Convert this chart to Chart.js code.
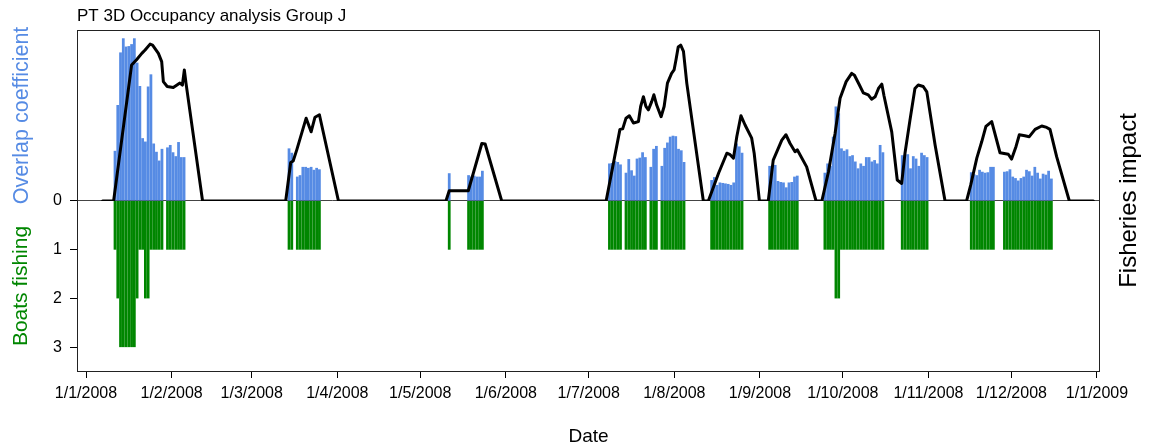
<!DOCTYPE html>
<html>
<head>
<meta charset="utf-8">
<script src="https://cdn.jsdelivr.net/npm/chart.js@4.4.1/dist/chart.umd.min.js"></script>
<style>
  html, body { margin: 0; padding: 0; background: #fff; }
</style>
</head>
<body>
<canvas id="myChart" width="1150" height="448"></canvas>
<script>
// x axis: days since 1/1/2008
const monthTicks = [0, 31, 60, 91, 121, 152, 182, 213, 244, 274, 305, 335, 366];
const monthLabels = ["1/1/2008", "1/2/2008", "1/3/2008", "1/4/2008", "1/5/2008", "1/6/2008",
  "1/7/2008", "1/8/2008", "1/9/2008", "1/10/2008", "1/11/2008", "1/12/2008", "1/1/2009"];
const boatTicks = [1, 2, 3];

// first day of each run of daily bars
const runStart = [10, 29, 73, 76, 131, 138, 189, 195, 204, 208, 226, 247, 267, 295, 320, 332];

// overlap coefficient per day, one list per run
const overlapRuns = [
  [1.03, 1.97, 3.05, 3.34, 3.17, 3.18, 3.22, 3.34, 2.84, 2.36, 1.29, 1.22, 2.35, 2.6, 1.18, 1.01, 0.83, 1.07],
  [1.1, 1.15, 1.0, 0.92, 1.21, 0.9, 0.9],
  [1.08, 0.99],
  [0.5, 0.53, 0.7, 0.7, 0.68, 0.7, 0.64, 0.68, 0.65],
  [0.57],
  [0.53, 0.5, 0.52, 0.5, 0.5, 0.62],
  [0.77, 0.78, 0.82, 0.8, 0.75],
  [0.58, 0.86, 0.63, 0.52, 0.87, 0.89, 1.0, 0.9],
  [0.7, 1.07, 1.13],
  [0.72, 1.09, 1.2, 1.32, 1.34, 1.33, 1.07, 1.04, 0.8],
  [0.43, 0.49, 0.33, 0.38, 0.37, 0.36, 0.35, 0.33, 0.38, 1.18, 1.12, 0.99],
  [0.72, 0.73, 0.74, 0.41, 0.39, 0.38, 0.28, 0.38, 0.39, 0.5, 0.52],
  [0.58, 0.77, 0.72, 1.32, 1.94, 1.8, 1.08, 1.03, 1.06, 0.92, 0.94, 0.81, 0.67, 0.77, 0.72, 0.9, 0.9, 0.81, 0.84, 0.77, 1.15, 1.0],
  [0.94, 0.95, 0.96, 0.67, 0.92, 0.87, 0.72, 0.99, 0.94, 0.9],
  [0.59, 0.55, 0.53, 0.64, 0.6, 0.58, 0.59, 0.7, 0.7],
  [0.6, 0.61, 0.65, 0.5, 0.47, 0.42, 0.47, 0.5, 0.64, 0.61, 0.52, 0.7, 0.58, 0.46, 0.56, 0.54, 0.62, 0.46]
];

// boats fishing per day, same runs
const boatRuns = [
  [1, 2, 3, 3, 3, 3, 3, 3, 2, 1, 1, 2, 2, 1, 1, 1, 1, 1],
  [1, 1, 1, 1, 1, 1, 1],
  [1, 1],
  [1, 1, 1, 1, 1, 1, 1, 1, 1],
  [1],
  [1, 1, 1, 1, 1, 1],
  [1, 1, 1, 1, 1],
  [1, 1, 1, 1, 1, 1, 1, 1],
  [1, 1, 1],
  [1, 1, 1, 1, 1, 1, 1, 1, 1],
  [1, 1, 1, 1, 1, 1, 1, 1, 1, 1, 1, 1],
  [1, 1, 1, 1, 1, 1, 1, 1, 1, 1, 1],
  [1, 1, 1, 1, 2, 2, 1, 1, 1, 1, 1, 1, 1, 1, 1, 1, 1, 1, 1, 1, 1, 1],
  [1, 1, 1, 1, 1, 1, 1, 1, 1, 1],
  [1, 1, 1, 1, 1, 1, 1, 1, 1],
  [1, 1, 1, 1, 1, 1, 1, 1, 1, 1, 1, 1, 1, 1, 1, 1, 1, 1]
];

// fisheries impact line
const impactDays = [6, 10, 16.5, 18.3, 20.2, 21.4, 23.2, 24.1, 26.2, 27.4, 28, 29.4, 31.6, 34, 34.9, 35.6, 36.2, 42.2,
  72.3, 74.1, 75, 76.3, 79.7, 81.5, 82.9, 84.5, 91.4,
  130.3, 131.5, 138.4, 143.3, 144.5, 150.5,
  188.3, 193.3, 194.3, 195.5, 196.7, 198.2, 200, 200.8, 201.8, 202.7, 203.6, 204.8, 205.6, 206.6, 208.2, 209.3, 210.5, 212, 212.9, 213.6, 214.4, 215.3, 216.3, 217.5, 223.5,
  225.3, 229, 232, 233.2, 234.4, 235.6, 237.1, 238.6, 241, 241.9, 243.8,
  247, 248.8, 251.9, 253.4, 254.9, 256.7, 257.5, 260.9, 264.3,
  266.4, 268.8, 271.2, 273, 275.2, 277.2, 278.2, 280, 281.4, 283.2, 284.4, 285.7, 286.9, 288.1, 288.9, 291.7, 293.7, 295.3, 296.5, 298.3, 300.1, 301.3, 303.1, 304.4, 307.4, 311,
  318.8, 320.3, 322.5, 324.3, 325.8, 327.9, 330.9, 333.9, 335.1, 336.7, 337.9, 339.9, 341.5, 343.6, 346, 347.8, 349, 351.4, 356, 364.7];
const impactValues = [0, 0, 2.79, 2.9, 3.03, 3.1, 3.22, 3.2, 3.03, 2.86, 2.45, 2.35, 2.33, 2.42, 2.38, 2.69, 2.42, 0,
  0, 0.79, 0.82, 1.05, 1.7, 1.42, 1.72, 1.77, 0,
  0, 0.21, 0.21, 1.18, 1.17, 0,
  0, 1.47, 1.48, 1.7, 1.75, 1.6, 1.63, 1.94, 2.14, 1.94, 1.87, 2.04, 2.18, 1.97, 1.73, 1.94, 2.42, 2.62, 2.69, 2.9, 3.16, 3.2, 3.07, 2.42, 0,
  0, 0.57, 0.98, 0.95, 0.88, 1.32, 1.75, 1.56, 1.29, 0.98, 0,
  0, 0.84, 1.25, 1.36, 1.18, 1.01, 1.05, 0.7, 0,
  0, 0.6, 1.39, 2.11, 2.45, 2.62, 2.58, 2.38, 2.22, 2.18, 2.09, 2.14, 2.31, 2.4, 2.16, 1.42, 0.43, 0.36, 0.98, 1.66, 2.31, 2.38, 2.35, 2.24, 1.15, 0,
  0, 0.33, 0.88, 1.22, 1.53, 1.63, 0.99, 0.96, 0.86, 1.12, 1.36, 1.34, 1.32, 1.47, 1.54, 1.51, 1.47, 0.91, 0, 0];

const FONT = '"Liberation Sans", Arial, Helvetica, sans-serif';
const BLUE = "rgb(86,139,228)";
const GREEN = "rgb(0,134,0)";

// bars are drawn across the day (centre at noon)
const overlapPts = [];
const boatPts = [];
runStart.forEach((start, r) => {
  overlapRuns[r].forEach((v, i) => overlapPts.push({ x: start + i + 0.5, y: v }));
  boatRuns[r].forEach((v, i) => boatPts.push({ x: start + i + 0.5, y: -v }));
});
const impactPts = impactDays.map((d, i) => ({ x: d, y: impactValues[i] }));

const framePlugin = {
  id: "frame",
  afterDraw(chart) {
    const { ctx, chartArea: a } = chart;
    ctx.save();
    ctx.strokeStyle = "#222";
    ctx.lineWidth = 1;
    ctx.strokeRect(Math.round(a.left) + 0.5, Math.round(a.top) + 0.5,
      Math.round(a.right - a.left) - 1, Math.round(a.bottom - a.top));
    ctx.translate(a.right + 29, (a.top + a.bottom) / 2);
    ctx.rotate(-Math.PI / 2);
    ctx.font = "24px " + FONT;
    ctx.fillStyle = "#000";
    ctx.textAlign = "center";
    ctx.textBaseline = "middle";
    ctx.fillText("Fisheries impact", 0, 0);
    ctx.restore();
  }
};

Chart.defaults.font.family = FONT;
Chart.defaults.color = "#000";

new Chart("myChart", {
  type: "bar",
  data: {
    datasets: [
      {
        type: "line",
        data: impactPts,
        yAxisID: "yOver",
        borderColor: "#000",
        borderWidth: 3,
        pointRadius: 0,
        tension: 0,
        borderJoinStyle: "round",
        borderCapStyle: "round",
        order: 0
      },
      {
        data: overlapPts,
        yAxisID: "yOver",
        backgroundColor: BLUE,
        grouped: false,
        stack: "s",
        barPercentage: 1,
        categoryPercentage: 1,
        inflateAmount: 0,
        order: 1
      },
      {
        data: boatPts,
        yAxisID: "yBoat",
        backgroundColor: GREEN,
        grouped: false,
        stack: "s",
        barPercentage: 1,
        categoryPercentage: 1,
        inflateAmount: 0,
        order: 1
      }
    ]
  },
  options: {
    responsive: false,
    animation: false,
    layout: { padding: { right: 50 } },
    plugins: {
      legend: { display: false },
      tooltip: { enabled: false },
      title: {
        display: true,
        text: "PT 3D Occupancy analysis Group J",
        align: "start",
        fullSize: false,
        color: "#000",
        font: { size: 17, weight: "normal" },
        padding: { top: 6, bottom: 3.6 }
      }
    },
    scales: {
      x: {
        type: "linear",
        position: "bottom",
        min: -3.26,
        max: 367.1,
        offset: false,
        afterBuildTicks: (s) => { s.ticks = monthTicks.map((v) => ({ value: v })); },
        ticks: {
          callback: (v, i) => monthLabels[i],
          font: { size: 16 },
          padding: 6,
          maxRotation: 0,
          autoSkip: false
        },
        grid: { offset: false, drawOnChartArea: false, tickLength: 7, tickColor: "#000" },
        border: { display: false },
        title: { display: true, text: "Date", font: { size: 19 }, padding: { top: 0, bottom: 0 } },
        afterFit: (s) => { s.height = 77; }
      },
      yBoat: {
        type: "linear",
        position: "left",
        stack: "v",
        stackWeight: 3.49,
        min: -3.49,
        max: 0,
        afterBuildTicks: (s) => { s.ticks = boatTicks.map((v) => ({ value: -v })); },
        ticks: { callback: (v) => String(-v), font: { size: 16 }, padding: 8 },
        grid: { drawOnChartArea: false, tickLength: 7, tickColor: "#000" },
        border: { display: false },
        title: { display: true, text: "Boats fishing", color: GREEN, font: { size: 21 }, padding: { top: 9, bottom: 0 } },
        afterFit: (s) => { s.width = 77; }
      },
      yOver: {
        type: "linear",
        position: "left",
        stack: "v",
        stackWeight: 3.51,
        min: 0,
        max: 3.51,
        afterBuildTicks: (s) => { s.ticks = [{ value: 0 }]; },
        ticks: { callback: () => "0", font: { size: 16 }, padding: 8 },
        grid: { color: "#444", lineWidth: 1, tickLength: 7, tickColor: "#000" },
        border: { display: false },
        title: { display: true, text: "Overlap coefficient", color: BLUE, font: { size: 21.5 }, padding: { top: 9, bottom: 0 } },
        afterFit: (s) => { s.width = 77; }
      }
    }
  },
  plugins: [framePlugin]
});
</script>
</body>
</html>
